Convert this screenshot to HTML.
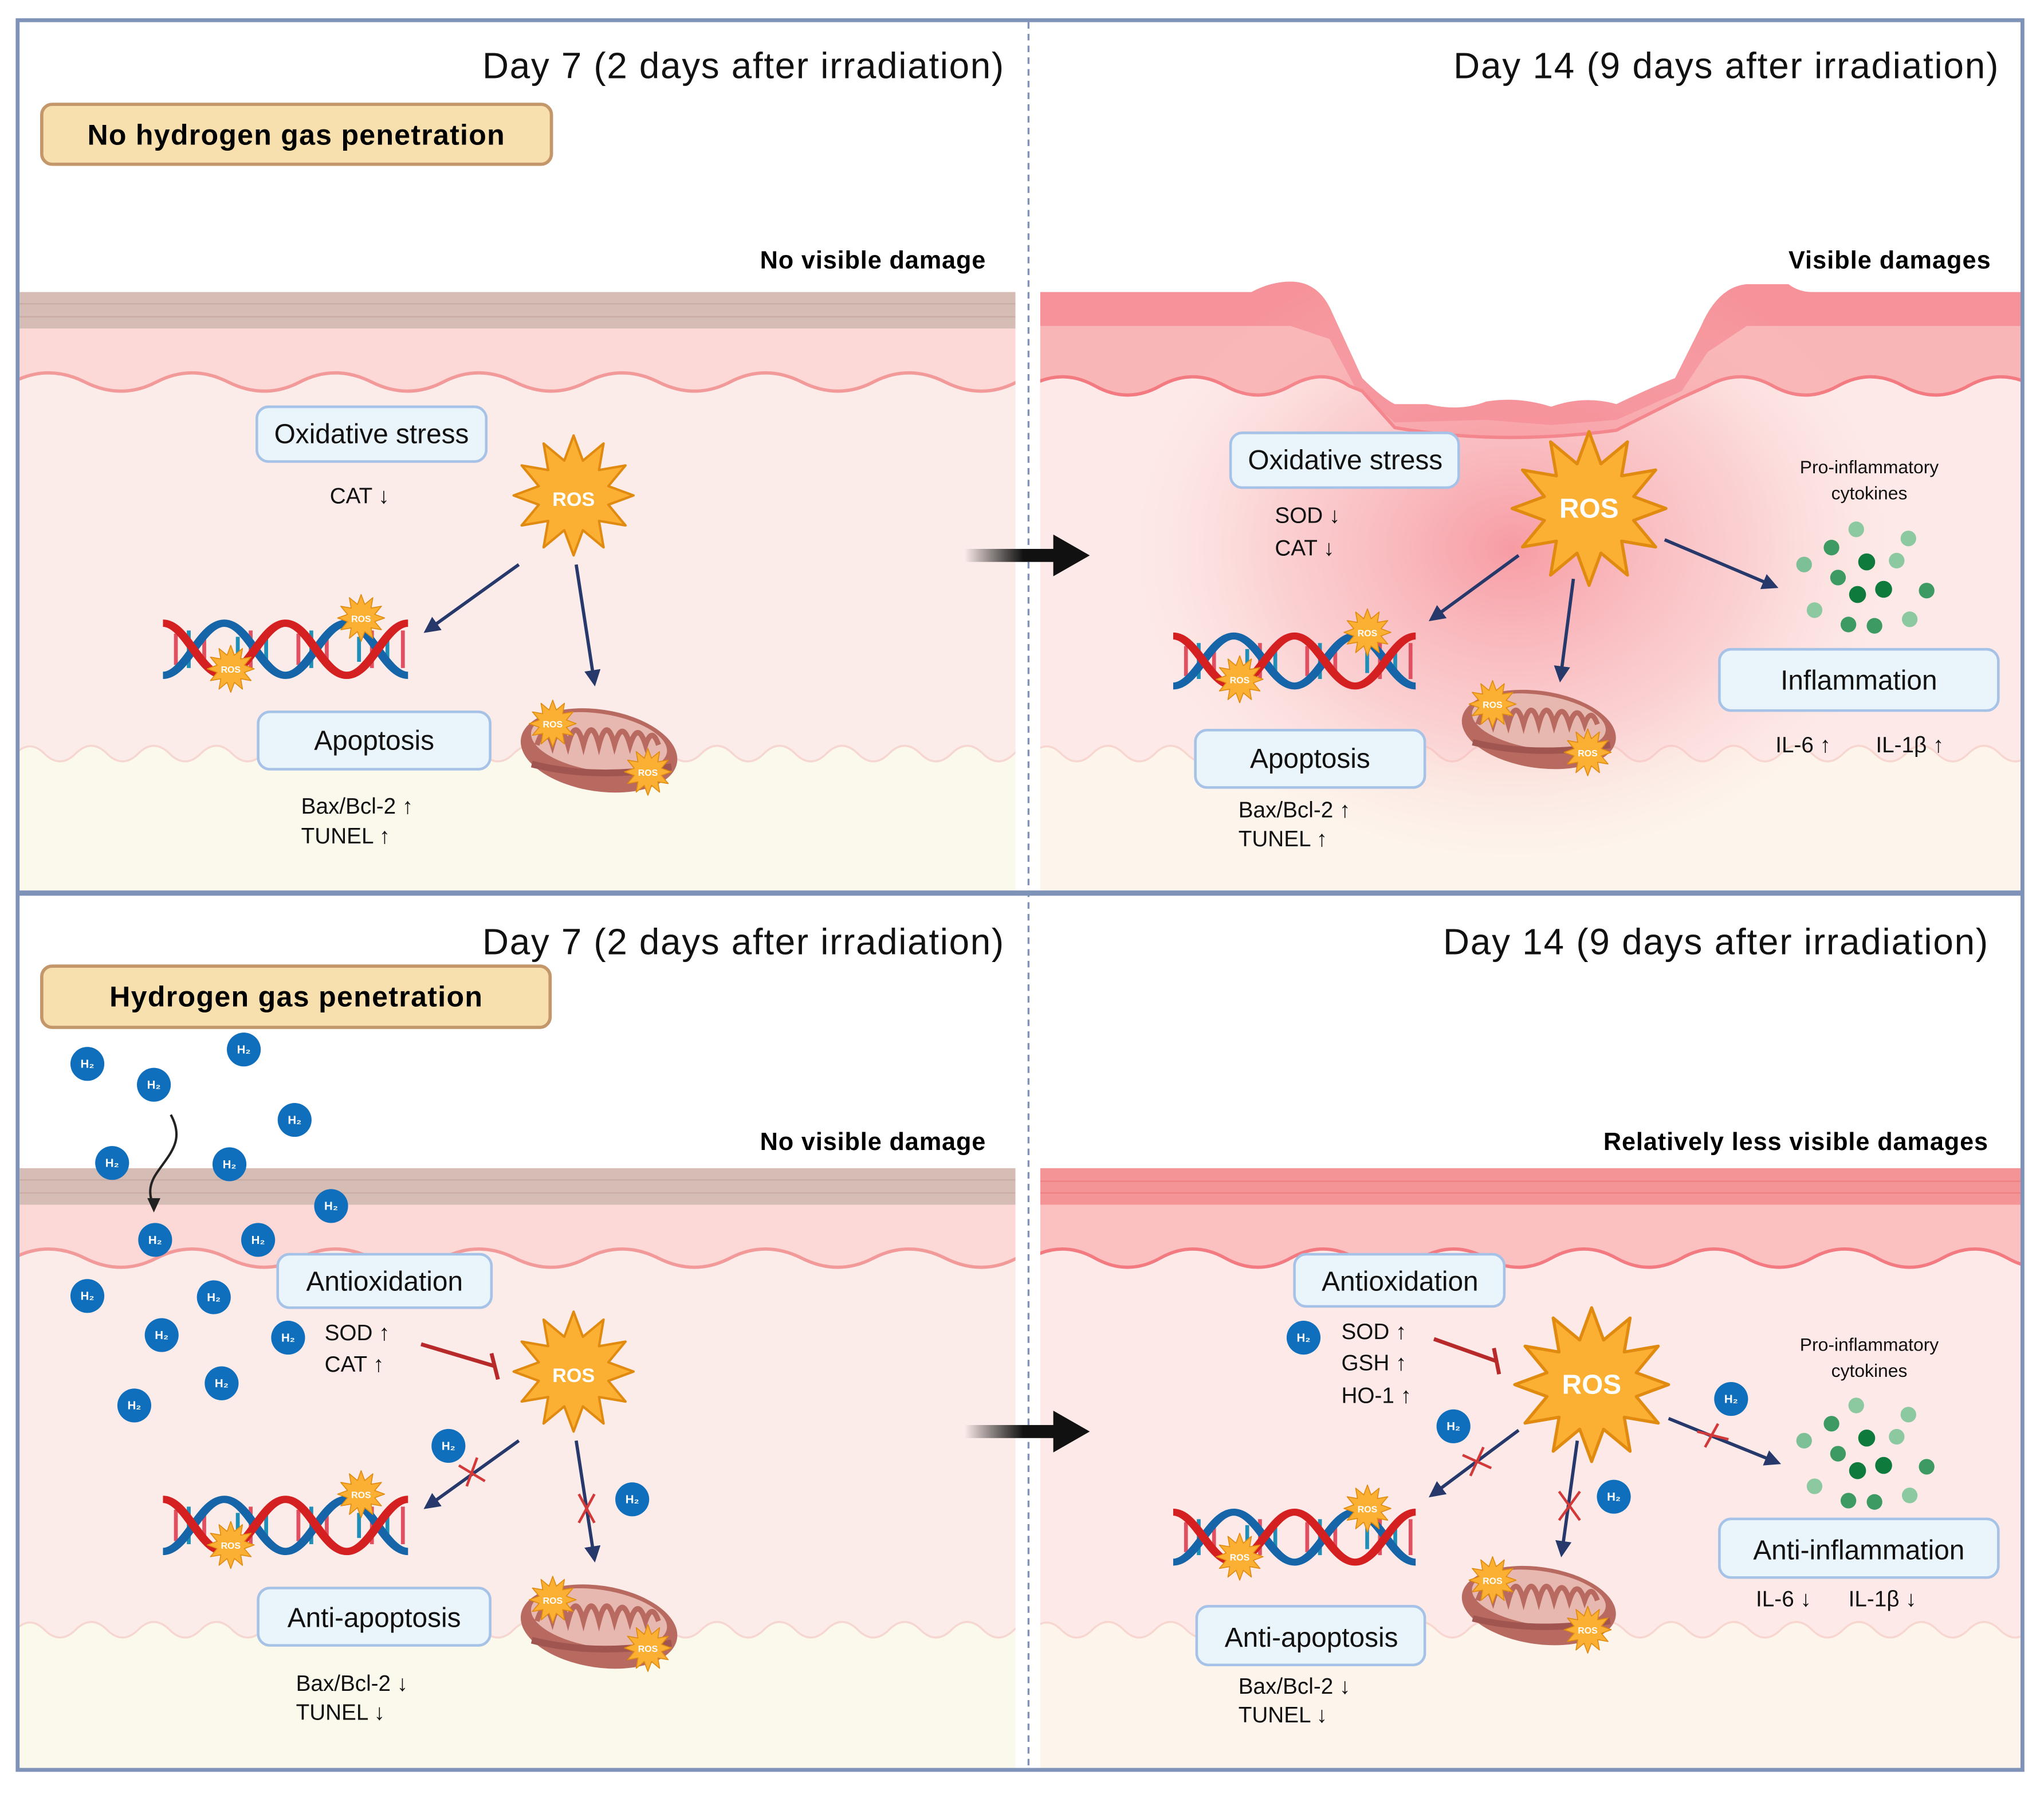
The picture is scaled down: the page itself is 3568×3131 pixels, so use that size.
<!DOCTYPE html>
<html><head><meta charset="utf-8"><style>
html,body{margin:0;padding:0;background:#fff}
svg{display:block}
text{font-family:"Liberation Sans",Arial,sans-serif}
</style></head><body>
<svg width="3568" height="3131" viewBox="0 0 1568 1376" xmlns="http://www.w3.org/2000/svg">
<defs>
<clipPath id="cL"><rect x="15" y="150" width="764" height="534"/></clipPath>
<clipPath id="cR"><rect x="798" y="150" width="752" height="534"/></clipPath>
<clipPath id="cWound"><path d="M798,224 L960,224 Q975,216 990,216 Q1012,216 1022,240 L1045,290 Q1060,305 1070,310 L1095,310 Q1120,316 1140,308 Q1165,304 1190,312 Q1215,303 1240,310 Q1265,298 1285,290 L1305,250 Q1318,220 1340,218 L1372,218 Q1380,224 1390,224 L1550,224 L1550,684 L798,684 z"/></clipPath>
<clipPath id="cBR"><rect x="798" y="850" width="752" height="506"/></clipPath>
<symbol id="star" viewBox="-100 -100 200 200" overflow="visible">
<polygon points="100,0 58,15.5 86.6,50 42.4,42.4 50,86.6 15.5,58 0,100 -15.5,58 -50,86.6 -42.4,42.4 -86.6,50 -58,15.5 -100,0 -58,-15.5 -86.6,-50 -42.4,-42.4 -50,-86.6 -15.5,-58 0,-100 15.5,-58 50,-86.6 42.4,-42.4 86.6,-50 58,-15.5" fill="#fbb034" stroke="#e08a10" stroke-width="4" stroke-linejoin="round"/>
</symbol>
<symbol id="dna" viewBox="0 0 190 60" preserveAspectRatio="none" overflow="visible">
<g stroke-width="3">
<line x1="10" y1="15" x2="10" y2="45" stroke="#e05060"/><line x1="20" y1="12" x2="20" y2="48" stroke="#1f8fb8"/><line x1="32" y1="20" x2="32" y2="40" stroke="#e05060"/>
<line x1="58" y1="18" x2="58" y2="42" stroke="#1f8fb8"/><line x1="68" y1="12" x2="68" y2="48" stroke="#e05060"/><line x1="80" y1="15" x2="80" y2="45" stroke="#1f8fb8"/>
<line x1="105" y1="15" x2="105" y2="45" stroke="#e05060"/><line x1="115" y1="12" x2="115" y2="48" stroke="#1f8fb8"/><line x1="127" y1="20" x2="127" y2="40" stroke="#e05060"/>
<line x1="152" y1="18" x2="152" y2="42" stroke="#1f8fb8"/><line x1="162" y1="12" x2="162" y2="48" stroke="#e05060"/><line x1="174" y1="15" x2="174" y2="45" stroke="#1f8fb8"/><line x1="186" y1="12" x2="186" y2="48" stroke="#e05060"/>
</g>
<path d="M0,55 C18,55 29,5 47.5,5 C66,5 77,55 95,55 C113,55 124,5 142.5,5 C161,5 172,55 190,55" fill="none" stroke="#1565a8" stroke-width="7"/>
<path d="M0,5 C18,5 29,55 47.5,55 C66,55 77,5 95,5 C113,5 124,55 142.5,55 C161,55 172,5 190,5" fill="none" stroke="#d42020" stroke-width="7"/>
</symbol>
<symbol id="mito" viewBox="0 0 125 65" preserveAspectRatio="none" overflow="visible">
<ellipse cx="62" cy="34" rx="61" ry="30" fill="#b86a60" transform="rotate(8 62 34)"/>
<ellipse cx="62" cy="28" rx="53" ry="21" fill="#e7b8b0" transform="rotate(8 62 28)"/>
<path d="M14,30 q6,-18 12,0 q6,-20 12,0 q6,-22 12,0 q6,-22 12,0 q6,-22 12,0 q6,-20 12,0 q6,-18 12,0 q5,-14 10,0" fill="none" stroke="#b86a60" stroke-width="4"/>
<path d="M10,44 Q60,56 118,46" fill="none" stroke="#a05550" stroke-width="5"/>
</symbol>
<symbol id="h2" viewBox="-14 -14 28 28" overflow="visible">
<circle r="13" fill="#0f6fbd"/>
</symbol>
<marker id="ah" viewBox="0 0 10 10" refX="8" refY="5" markerWidth="5" markerHeight="5" orient="auto"><path d="M0,0 L10,5 L0,10 z" fill="#26396a"/></marker>
<linearGradient id="bk" x1="0" x2="1"><stop offset="0" stop-color="#000" stop-opacity="0"/><stop offset="0.6" stop-color="#111"/></linearGradient>
<radialGradient id="glow" cx="0.5" cy="0.5" r="0.5"><stop offset="0" stop-color="#f47a86" stop-opacity="0.7"/><stop offset="0.6" stop-color="#f7a0a8" stop-opacity="0.35"/><stop offset="1" stop-color="#fbd0d0" stop-opacity="0"/></radialGradient>
<g id="skinL">
<rect x="15" y="224" width="764" height="28" fill="#d5bcb4"/>
<line x1="15" y1="233" x2="779" y2="233" stroke="#c9aca4" stroke-width="1"/>
<line x1="15" y1="243" x2="779" y2="243" stroke="#c9aca4" stroke-width="1"/>
<rect x="15" y="252" width="764" height="50" fill="#fcd8d6"/>
<path d="M10,293 q27,-14 55,0 t55,0 t55,0 t55,0 t55,0 t55,0 t55,0 t55,0 t55,0 t55,0 t55,0 t55,0 t55,0 t55,0 L790,700 L10,700 z" fill="#fbecea"/>
<path d="M10,293 q27,-14 55,0 t55,0 t55,0 t55,0 t55,0 t55,0 t55,0 t55,0 t55,0 t55,0 t55,0 t55,0 t55,0 t55,0" fill="none" stroke="#f29a9a" stroke-width="2.5"/>
<path d="M10,580 q12,-14 24,-2 t24,0 t24,0 t24,0 t24,0 t24,0 t24,0 t24,0 t24,0 t24,0 t24,0 t24,0 t24,0 t24,0 t24,0 t24,0 t24,0 t24,0 t24,0 t24,0 t24,0 t24,0 t24,0 t24,0 t24,0 t24,0 t24,0 t24,0 t24,0 t24,0 t24,0 t24,0 t24,0 L790,700 L10,700 z" fill="#fbf9ec"/>
<path d="M10,580 q12,-14 24,-2 t24,0 t24,0 t24,0 t24,0 t24,0 t24,0 t24,0 t24,0 t24,0 t24,0 t24,0 t24,0 t24,0 t24,0 t24,0 t24,0 t24,0 t24,0 t24,0 t24,0 t24,0 t24,0 t24,0 t24,0 t24,0 t24,0 t24,0 t24,0 t24,0 t24,0 t24,0 t24,0" fill="none" stroke="#f6d6d0" stroke-width="1.5"/>
</g>
</defs>

<g clip-path="url(#cL)"><use href="#skinL"/></g>
<g clip-path="url(#cL)" transform="translate(0,672)"><use href="#skinL"/></g>

<!-- TOP RIGHT skin -->
<g clip-path="url(#cR)">
<path d="M798,224 L960,224 Q975,216 990,216 Q1012,216 1022,240 L1045,290 Q1060,305 1070,310 L1095,310 Q1120,316 1140,308 Q1165,304 1190,312 Q1215,303 1240,310 Q1265,298 1285,290 L1305,250 Q1318,220 1340,218 L1372,218 Q1380,224 1390,224 L1560,224 L1560,360 L790,360 z" fill="#f9b6b6"/>
<path d="M798,224 L960,224 Q975,216 990,216 Q1012,216 1022,240 L1045,290 Q1060,305 1070,310 L1095,310 Q1120,316 1140,308 Q1165,304 1190,312 Q1215,303 1240,310 Q1265,298 1285,290 L1305,250 Q1318,220 1340,218 L1372,218 Q1380,224 1390,224 L1560,224 L1560,250 L1340,250 L1310,270 L1290,300 L1240,322 L1190,326 L1140,322 L1070,324 L1040,298 L1020,260 L990,250 L790,250 z" fill="#f58a92" opacity="0.8"/>
<path d="M790,296 q25,-14 50,0 t50,0 t50,0 t50,0 t45,0 L1045,300 L1070,328 Q1150,342 1240,330 L1290,305 L1310,296 q25,-14 50,0 t50,0 t50,0 t50,0 t50,0 L1560,700 L790,700 z" fill="#fdeae8"/>
<path d="M790,296 q25,-14 50,0 t50,0 t50,0 t50,0 t45,0 L1045,300 L1070,328 Q1150,342 1240,330 L1290,305 L1310,296 q25,-14 50,0 t50,0 t50,0 t50,0 t50,0" fill="none" stroke="#f27a80" stroke-width="2.5"/>
<path d="M790,580 q12,-14 24,-2 t24,0 t24,0 t24,0 t24,0 t24,0 t24,0 t24,0 t24,0 t24,0 t24,0 t24,0 t24,0 t24,0 t24,0 t24,0 t24,0 t24,0 t24,0 t24,0 t24,0 t24,0 t24,0 t24,0 t24,0 t24,0 t24,0 t24,0 t24,0 t24,0 t24,0 t24,0 L1560,700 L790,700 z" fill="#fdf4ec"/>
<path d="M790,580 q12,-14 24,-2 t24,0 t24,0 t24,0 t24,0 t24,0 t24,0 t24,0 t24,0 t24,0 t24,0 t24,0 t24,0 t24,0 t24,0 t24,0 t24,0 t24,0 t24,0 t24,0 t24,0 t24,0 t24,0 t24,0 t24,0 t24,0 t24,0 t24,0 t24,0 t24,0 t24,0 t24,0" fill="none" stroke="#f8d6d0" stroke-width="1.5"/>
</g>
<g clip-path="url(#cWound)"><ellipse cx="1160" cy="420" rx="300" ry="240" fill="url(#glow)"/></g>

<!-- BOTTOM RIGHT skin -->
<g clip-path="url(#cBR)">
<rect x="798" y="896" width="752" height="28" fill="#f59496"/>
<line x1="798" y1="906" x2="1550" y2="906" stroke="#ee8084" stroke-width="1"/>
<line x1="798" y1="915" x2="1550" y2="915" stroke="#ee8084" stroke-width="1"/>
<rect x="798" y="924" width="752" height="50" fill="#fbc0c0"/>
<path d="M790,965 q25,-14 50,0 t50,0 t50,0 t50,0 t50,0 t50,0 t50,0 t50,0 t50,0 t50,0 t50,0 t50,0 t50,0 t50,0 t50,0 t50,0 L1600,1370 L790,1370 z" fill="#fdeae8"/>
<path d="M790,965 q25,-14 50,0 t50,0 t50,0 t50,0 t50,0 t50,0 t50,0 t50,0 t50,0 t50,0 t50,0 t50,0 t50,0 t50,0 t50,0 t50,0" fill="none" stroke="#f27a80" stroke-width="2.5"/>
<path d="M790,1252 q12,-14 24,-2 t24,0 t24,0 t24,0 t24,0 t24,0 t24,0 t24,0 t24,0 t24,0 t24,0 t24,0 t24,0 t24,0 t24,0 t24,0 t24,0 t24,0 t24,0 t24,0 t24,0 t24,0 t24,0 t24,0 t24,0 t24,0 t24,0 t24,0 t24,0 t24,0 t24,0 t24,0 L1560,1370 L790,1370 z" fill="#fdf4ec"/>
<path d="M790,1252 q12,-14 24,-2 t24,0 t24,0 t24,0 t24,0 t24,0 t24,0 t24,0 t24,0 t24,0 t24,0 t24,0 t24,0 t24,0 t24,0 t24,0 t24,0 t24,0 t24,0 t24,0 t24,0 t24,0 t24,0 t24,0 t24,0 t24,0 t24,0 t24,0 t24,0 t24,0 t24,0 t24,0" fill="none" stroke="#f8d6d0" stroke-width="1.5"/>
</g>

<!-- frame -->
<rect x="13.5" y="15.5" width="1538" height="1342" fill="none" stroke="#7f93b8" stroke-width="3"/>
<line x1="13" y1="685" x2="1552" y2="685" stroke="#7f93b8" stroke-width="4"/>
<line x1="789" y1="17" x2="789" y2="1356" stroke="#7f93b8" stroke-width="1.5" stroke-dasharray="5,4"/>

<!-- titles -->
<g font-size="28" fill="#111">
<text x="770" y="60" text-anchor="end" textLength="400">Day 7 (2 days after irradiation)</text>
<text x="1533" y="60" text-anchor="end" textLength="418">Day 14 (9 days after irradiation)</text>
<text x="770" y="732" text-anchor="end" textLength="400">Day 7 (2 days after irradiation)</text>
<text x="1525" y="732" text-anchor="end" textLength="418">Day 14 (9 days after irradiation)</text>
</g>
<rect x="32" y="80" width="391" height="46" rx="8" fill="#f7e0ad" stroke="#c4976b" stroke-width="2.5"/>
<text x="227" y="111" text-anchor="middle" font-size="22" font-weight="bold" textLength="320">No hydrogen gas penetration</text>
<rect x="32" y="741" width="390" height="47" rx="8" fill="#f7e0ad" stroke="#c4976b" stroke-width="2.5"/>
<text x="227" y="772" text-anchor="middle" font-size="22" font-weight="bold" textLength="286">Hydrogen gas penetration</text>
<g font-size="19" font-weight="bold" text-anchor="end">
<text x="756" y="206" textLength="173">No visible damage</text>
<text x="1527" y="206" textLength="155">Visible damages</text>
<text x="756" y="882" textLength="173">No visible damage</text>
<text x="1525" y="882" textLength="295">Relatively less visible damages</text>
</g>

<!-- node boxes -->
<g fill="#eaf4fb" stroke="#a6c2e6" stroke-width="2">
<rect x="197" y="312" width="176" height="42" rx="9"/>
<rect x="198" y="546" width="178" height="44" rx="9"/>
<rect x="944" y="332" width="175" height="42" rx="9"/>
<rect x="917" y="560" width="176" height="44" rx="9"/>
<rect x="1319" y="498" width="214" height="47" rx="9"/>
<rect x="213" y="962" width="164" height="41" rx="9"/>
<rect x="198" y="1218" width="178" height="44" rx="9"/>
<rect x="993" y="962" width="161" height="40" rx="9"/>
<rect x="918" y="1232" width="175" height="45" rx="9"/>
<rect x="1319" y="1165" width="214" height="45" rx="9"/>
</g>
<g font-size="21" text-anchor="middle" fill="#111">
<text x="285" y="340">Oxidative stress</text>
<text x="287" y="575">Apoptosis</text>
<text x="1032" y="360">Oxidative stress</text>
<text x="1005" y="589">Apoptosis</text>
<text x="1426" y="529">Inflammation</text>
<text x="295" y="990">Antioxidation</text>
<text x="287" y="1248">Anti-apoptosis</text>
<text x="1074" y="990">Antioxidation</text>
<text x="1006" y="1263">Anti-apoptosis</text>
<text x="1426" y="1196">Anti-inflammation</text>
</g>
<g font-size="17" fill="#111">
<text x="253" y="386">CAT ↓</text>
<text x="231" y="624">Bax/Bcl-2 ↑</text><text x="231" y="647">TUNEL ↑</text>
<text x="978" y="401">SOD ↓</text><text x="978" y="426">CAT ↓</text>
<text x="950" y="627">Bax/Bcl-2 ↑</text><text x="950" y="649">TUNEL ↑</text>
<text x="1362" y="577">IL-6 ↑</text><text x="1439" y="577">IL-1β ↑</text>
<text x="249" y="1028">SOD ↑</text><text x="249" y="1052">CAT ↑</text>
<text x="227" y="1297">Bax/Bcl-2 ↓</text><text x="227" y="1319">TUNEL ↓</text>
<text x="1029" y="1027">SOD ↑</text><text x="1029" y="1051">GSH ↑</text><text x="1029" y="1076">HO-1 ↑</text>
<text x="950" y="1299">Bax/Bcl-2 ↓</text><text x="950" y="1321">TUNEL ↓</text>
<text x="1347" y="1232">IL-6 ↓</text><text x="1418" y="1232">IL-1β ↓</text>
</g>
<g font-size="14" text-anchor="middle" fill="#111">
<text x="1434" y="363">Pro-inflammatory</text><text x="1434" y="383">cytokines</text>
<text x="1434" y="1036">Pro-inflammatory</text><text x="1434" y="1056">cytokines</text>
</g>

<!-- DNA & mito -->
<use href="#dna" x="125" y="474" width="188" height="48"/>
<use href="#dna" x="900" y="484" width="186" height="46"/>
<use href="#dna" x="125" y="1146" width="188" height="48"/>
<use href="#dna" x="900" y="1156" width="186" height="46"/>
<use href="#mito" x="398" y="540" width="124" height="68"/>
<use href="#mito" x="1120" y="526" width="122" height="64"/>
<use href="#mito" x="398" y="1212" width="124" height="68"/>
<use href="#mito" x="1120" y="1198" width="122" height="64"/>

<!-- small ROS stars -->
<g>
<use href="#star" x="259" y="456" width="36" height="36"/><use href="#star" x="159" y="495" width="36" height="36"/>
<use href="#star" x="406" y="537" width="36" height="36"/><use href="#star" x="479" y="574" width="36" height="36"/>
<use href="#star" x="1031" y="467" width="36" height="36"/><use href="#star" x="933" y="503" width="36" height="36"/>
<use href="#star" x="1127" y="522" width="36" height="36"/><use href="#star" x="1200" y="559" width="36" height="36"/>
<use href="#star" x="259" y="1128" width="36" height="36"/><use href="#star" x="159" y="1167" width="36" height="36"/>
<use href="#star" x="406" y="1209" width="36" height="36"/><use href="#star" x="479" y="1246" width="36" height="36"/>
<use href="#star" x="1031" y="1139" width="36" height="36"/><use href="#star" x="933" y="1176" width="36" height="36"/>
<use href="#star" x="1127" y="1194" width="36" height="36"/><use href="#star" x="1200" y="1232" width="36" height="36"/>
</g>
<g font-size="7" font-weight="bold" fill="#fff" text-anchor="middle">
<text x="277" y="477">ROS</text><text x="177" y="516">ROS</text><text x="424" y="558">ROS</text><text x="497" y="595">ROS</text>
<text x="1049" y="488">ROS</text><text x="951" y="524">ROS</text><text x="1145" y="543">ROS</text><text x="1218" y="580">ROS</text>
<text x="277" y="1149">ROS</text><text x="177" y="1188">ROS</text><text x="424" y="1230">ROS</text><text x="497" y="1267">ROS</text>
<text x="1049" y="1160">ROS</text><text x="951" y="1197">ROS</text><text x="1145" y="1215">ROS</text><text x="1218" y="1253">ROS</text>
</g>

<!-- big ROS -->
<use href="#star" x="394" y="334" width="92" height="92"/>
<use href="#star" x="1160" y="331" width="118" height="118"/>
<use href="#star" x="394" y="1006" width="92" height="92"/>
<use href="#star" x="1162" y="1003" width="118" height="118"/>
<g font-weight="bold" fill="#fff" text-anchor="middle">
<text x="440" y="388" font-size="15">ROS</text>
<text x="1219" y="397" font-size="21">ROS</text>
<text x="440" y="1060" font-size="15">ROS</text>
<text x="1221" y="1069" font-size="21">ROS</text>
</g>

<!-- arrows -->
<g stroke="#26396a" stroke-width="2.5" marker-end="url(#ah)" fill="none">
<line x1="398" y1="433" x2="327" y2="484"/>
<line x1="442" y1="433" x2="456" y2="524"/>
<line x1="1165" y1="426" x2="1098" y2="475"/>
<line x1="1207" y1="444" x2="1197" y2="521"/>
<line x1="1277" y1="414" x2="1362" y2="450"/>
<line x1="398" y1="1105" x2="327" y2="1156"/>
<line x1="442" y1="1105" x2="456" y2="1196"/>
<line x1="1165" y1="1097" x2="1098" y2="1147"/>
<line x1="1210" y1="1105" x2="1198" y2="1192"/>
<line x1="1280" y1="1088" x2="1364" y2="1122"/>
</g>
<g stroke="#d23a3a" stroke-width="2" fill="none">
<path d="M352,1124 L372,1136 M358,1140 L366,1118"/>
<path d="M444,1146 L456,1168 M456,1146 L444,1168"/>
<path d="M1122,1116 L1144,1126 M1128,1132 L1138,1110"/>
<path d="M1196,1144 L1212,1166 M1212,1144 L1196,1166"/>
<path d="M1302,1098 L1326,1104 M1308,1110 L1318,1092"/>
</g>
<g stroke="#b82a2a" stroke-width="3" fill="none">
<line x1="323" y1="1031" x2="380" y2="1048"/><line x1="377" y1="1038" x2="382" y2="1058"/>
<line x1="1100" y1="1027" x2="1148" y2="1044"/><line x1="1146" y1="1034" x2="1150" y2="1054"/>
</g>

<!-- black transition arrows -->
<rect x="740" y="421" width="75" height="10" fill="url(#bk)"/>
<polygon points="808,410 836,426 808,442" fill="#111"/>
<rect x="740" y="1093" width="75" height="10" fill="url(#bk)"/>
<polygon points="808,1082 836,1098 808,1114" fill="#111"/>

<!-- cytokines -->
<g id="cyto">
<circle cx="1384" cy="433" r="6" fill="#7dbf96"/><circle cx="1405" cy="420" r="6" fill="#3d9a62"/>
<circle cx="1424" cy="406" r="6" fill="#8cc8a0"/><circle cx="1464" cy="413" r="6" fill="#8cc8a0"/>
<circle cx="1410" cy="443" r="6" fill="#3d9a62"/><circle cx="1432" cy="431" r="6.5" fill="#0e7a3c"/>
<circle cx="1455" cy="430" r="6" fill="#8cc8a0"/><circle cx="1425" cy="456" r="6.5" fill="#0e7a3c"/>
<circle cx="1445" cy="452" r="6.5" fill="#0e7a3c"/><circle cx="1478" cy="453" r="6" fill="#3d9a62"/>
<circle cx="1392" cy="468" r="6" fill="#8cc8a0"/><circle cx="1418" cy="479" r="6" fill="#3d9a62"/>
<circle cx="1438" cy="480" r="6" fill="#3d9a62"/><circle cx="1465" cy="475" r="6" fill="#8cc8a0"/>
</g>
<use href="#cyto" y="672"/>

<!-- H2 curved arrow -->
<path d="M131,855 C142,875 130,885 120,900 C112,912 116,920 118,926" fill="none" stroke="#222" stroke-width="1.8"/>
<polygon points="113,919 118,930 123,919" fill="#222"/>

<!-- H2 molecules -->
<g>
<use href="#h2" x="53" y="802" width="28" height="28"/><use href="#h2" x="104" y="818" width="28" height="28"/>
<use href="#h2" x="173" y="791" width="28" height="28"/><use href="#h2" x="212" y="845" width="28" height="28"/>
<use href="#h2" x="72" y="878" width="28" height="28"/><use href="#h2" x="162" y="879" width="28" height="28"/>
<use href="#h2" x="240" y="911" width="28" height="28"/><use href="#h2" x="105" y="937" width="28" height="28"/>
<use href="#h2" x="184" y="937" width="28" height="28"/><use href="#h2" x="53" y="980" width="28" height="28"/>
<use href="#h2" x="150" y="981" width="28" height="28"/><use href="#h2" x="110" y="1010" width="28" height="28"/>
<use href="#h2" x="207" y="1012" width="28" height="28"/><use href="#h2" x="156" y="1047" width="28" height="28"/>
<use href="#h2" x="89" y="1064" width="28" height="28"/><use href="#h2" x="330" y="1095" width="28" height="28"/>
<use href="#h2" x="471" y="1136" width="28" height="28"/><use href="#h2" x="986" y="1012" width="28" height="28"/>
<use href="#h2" x="1101" y="1080" width="28" height="28"/><use href="#h2" x="1314" y="1059" width="28" height="28"/>
<use href="#h2" x="1224" y="1134" width="28" height="28"/>
</g>
<g font-size="9" font-weight="bold" fill="#fff" text-anchor="middle">
<text x="67" y="819">H₂</text><text x="118" y="835">H₂</text><text x="187" y="808">H₂</text><text x="226" y="862">H₂</text>
<text x="86" y="895">H₂</text><text x="176" y="896">H₂</text><text x="254" y="928">H₂</text><text x="119" y="954">H₂</text>
<text x="198" y="954">H₂</text><text x="67" y="997">H₂</text><text x="164" y="998">H₂</text><text x="124" y="1027">H₂</text>
<text x="221" y="1029">H₂</text><text x="170" y="1064">H₂</text><text x="103" y="1081">H₂</text><text x="344" y="1112">H₂</text>
<text x="485" y="1153">H₂</text><text x="1000" y="1029">H₂</text><text x="1115" y="1097">H₂</text><text x="1328" y="1076">H₂</text>
<text x="1238" y="1151">H₂</text>
</g>
</svg>
</body></html>
